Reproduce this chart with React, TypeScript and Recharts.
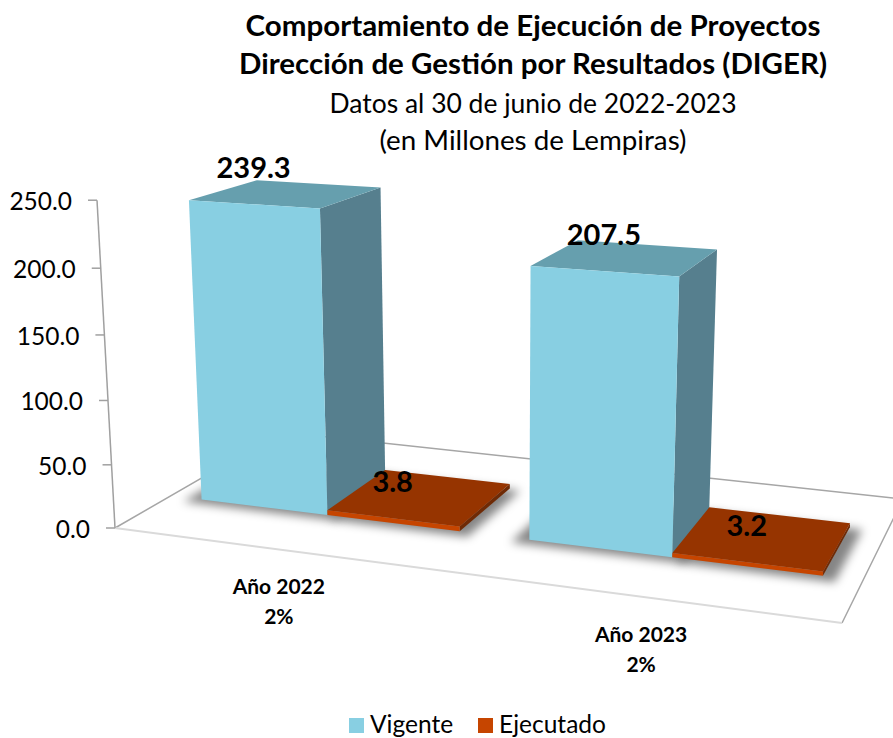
import { Bar, BarChart, Customized, LabelList, Legend, XAxis, YAxis } from "recharts";

const categories = ["Año 2022", "Año 2023"];
const categoryShares = ["2%", "2%"];
const vigente = [239.3, 207.5];
const ejecutado = [3.8, 3.2];
const yTicks = [0, 50, 100, 150, 200, 250];
const titleBold = ["Comportamiento de Ejecución de Proyectos", "Dirección de Gestión por Resultados (DIGER)"];
const titleRegular = ["Datos al 30 de junio de 2022-2023", "(en Millones de Lempiras)"];

const tableData = categories.map((name, i) => ({
  name,
  share: categoryShares[i],
  Vigente: vigente[i],
  Ejecutado: ejecutado[i],
}));

const WIDTH = 893;
const HEIGHT = 738;
const PLOT_LEFT = 115;
const PLOT_TOP = 200;
const PLOT_W = 727;
const PLOT_H = 328;
const FONT = "Lato, 'Open Sans', sans-serif";

// depth of the bars on the floor, 0 = front edge, 1 = back edge
const BAR_FRONT = 0.3;
const BAR_BACK = 0.7;

// perspective of the old 3D excel chart: floor homography + vanishing point of the verticals
function project(u: number, v: number, value: number): [number, number] {
  const w = -0.12734 * u + 0.18225 * v + 1;
  const X = 619.8 * u + 217.8 * v + 115;
  const Y = 15.67 * u - 17.27 * v + 528;
  const k = -0.000179 * value;
  return [(X + k * 499) / (w + k), (Y + k * 7525) / (w + k)];
}

const pts = (list: [number, number][]) => list.map((p) => p.join(",")).join(" ");
const toU = (x: number) => (x - PLOT_LEFT) / PLOT_W;

const faces: Record<string, { top: string; side: string }> = {
  "#88CFE2": { top: "#669FAE", side: "#567F8E" },
  "#C64500": { top: "#963400", side: "#6F2A05" },
};

function Prism(props: any) {
  const { x, width, height, fill } = props;
  const value = (height / PLOT_H) * 250;
  const u0 = toU(x);
  const u1 = toU(x + width);
  const c = faces[fill];
  // the low bars sit against the tall one, so keep their shadow off its side
  const s0 = value < 20 ? u0 + 0.012 : u0 - 0.02;
  return (
    <g>
      <polygon
        points={pts([
          project(s0, BAR_FRONT - 0.035, 0),
          project(u1 + 0.018, BAR_FRONT - 0.035, 0),
          project(u1 + 0.018, BAR_BACK - 0.01, 0),
          project(s0, BAR_BACK - 0.01, 0),
        ])}
        fill="#000"
        fillOpacity={0.48}
        filter="url(#floorShadow)"
      />
      <polygon
        points={pts([
          project(u1, BAR_FRONT, 0),
          project(u1, BAR_BACK, 0),
          project(u1, BAR_BACK, value),
          project(u1, BAR_FRONT, value),
        ])}
        fill={c.side}
      />
      <polygon
        points={pts([
          project(u0, BAR_FRONT, value),
          project(u1, BAR_FRONT, value),
          project(u1, BAR_BACK, value),
          project(u0, BAR_BACK, value),
        ])}
        fill={c.top}
      />
      <polygon
        points={pts([
          project(u0, BAR_FRONT, 0),
          project(u1, BAR_FRONT, 0),
          project(u1, BAR_FRONT, value),
          project(u0, BAR_FRONT, value),
        ])}
        fill={fill}
      />
    </g>
  );
}

function BarValue(props: any) {
  const { x, width, height, value } = props;
  const [px, py] = project(toU(x + width / 2), BAR_FRONT, (height / PLOT_H) * 250);
  return (
    <text x={px} y={py - 26} textAnchor="middle" fontFamily={FONT} fontSize={29} fontWeight={700} fill="#000">
      {value.toFixed(1)}
    </text>
  );
}

function YTick(props: any) {
  const value = props.payload.value;
  const [px, py] = project(0, 0, value);
  return (
    <g>
      <line x1={px - 9} y1={py} x2={px} y2={py} stroke="#A0A0A0" strokeWidth={1.5} />
      <text x={px - 25} y={py + 10} textAnchor="end" fontFamily={FONT} fontSize={24.5} fill="#000">
        {value.toFixed(1)}
      </text>
    </g>
  );
}

function XTick(props: any) {
  const { x, index, payload } = props;
  const [px, py] = project(toU(x), 0, 0);
  return (
    <text textAnchor="middle" fontFamily={FONT} fontSize={21} fontWeight={700} fill="#000">
      <tspan x={px} y={py + 45}>{payload.value}</tspan>
      <tspan x={px} y={py + 75}>{categoryShares[index]}</tspan>
    </text>
  );
}

function Backdrop() {
  const fl = project(0, 0, 0);
  const fr = project(1, 0, 0);
  const br = project(1, 1, 0);
  const bl = project(0, 1, 0);
  const axisTop = project(0, 0, 250);
  return (
    <g>
      <defs>
        <filter id="floorShadow" x="-40%" y="-60%" width="180%" height="220%">
          <feGaussianBlur stdDeviation="5" />
        </filter>
      </defs>
      <text x={533} y={36} textAnchor="middle" textLength={575} lengthAdjust="spacingAndGlyphs" fontFamily={FONT} fontSize={28} fontWeight={700} fill="#000">
        {titleBold[0]}
      </text>
      <text x={533} y={74} textAnchor="middle" textLength={588} lengthAdjust="spacingAndGlyphs" fontFamily={FONT} fontSize={28} fontWeight={700} fill="#000">
        {titleBold[1]}
      </text>
      <text x={533} y={113} textAnchor="middle" textLength={407} lengthAdjust="spacingAndGlyphs" fontFamily={FONT} fontSize={27} fill="#000">
        {titleRegular[0]}
      </text>
      <text x={533} y={150} textAnchor="middle" textLength={307} lengthAdjust="spacingAndGlyphs" fontFamily={FONT} fontSize={27} fill="#000">
        {titleRegular[1]}
      </text>
      <polyline points={pts([fl, bl, br, fr])} fill="none" stroke="#A6A6A6" strokeWidth={1.5} />
      <line x1={fl[0]} y1={fl[1]} x2={fr[0]} y2={fr[1]} stroke="#DADADA" strokeWidth={2} />
      <line x1={fl[0]} y1={fl[1]} x2={axisTop[0]} y2={axisTop[1]} stroke="#A0A0A0" strokeWidth={1.5} />
    </g>
  );
}

function LegendRow(props: any) {
  return (
    <div style={{ display: "flex", fontFamily: FONT, fontSize: 24.5, color: "#000", lineHeight: "28px" }}>
      {props.payload.map((entry: any, i: number) => (
        <div key={entry.value} style={{ display: "flex", alignItems: "center", marginRight: i === 0 ? 25 : 0 }}>
          <span style={{ width: 15, height: 15, background: entry.color, marginRight: 6, marginTop: 3, display: "inline-block" }} />
          {entry.value}
        </div>
      ))}
    </div>
  );
}

export default function App() {
  return (
    <div style={{ position: "absolute", left: 0, top: 0, width: WIDTH, height: HEIGHT, overflow: "hidden", background: "#fff" }}>
      <BarChart
        width={WIDTH}
        height={HEIGHT}
        data={tableData}
        barCategoryGap="10%"
        barGap={0}
        margin={{ top: PLOT_TOP, right: WIDTH - PLOT_LEFT - PLOT_W, bottom: 0, left: 0 }}
      >
        <Customized component={Backdrop} />
        <XAxis dataKey="name" height={HEIGHT - PLOT_TOP - PLOT_H} axisLine={false} tickLine={false} interval={0} tick={XTick} />
        <YAxis width={PLOT_LEFT} domain={[0, 250]} ticks={yTicks} axisLine={false} tickLine={false} tick={YTick} />
        <Legend
          layout="vertical"
          align="center"
          verticalAlign="middle"
          itemSorter={null}
          content={LegendRow}
          wrapperStyle={{ left: 349, top: 710, width: 300 }}
        />
        <Bar dataKey="Vigente" fill="#88CFE2" shape={Prism} isAnimationActive={false} legendType="square">
          <LabelList dataKey="Vigente" content={BarValue} />
        </Bar>
        <Bar dataKey="Ejecutado" fill="#C64500" shape={Prism} isAnimationActive={false} legendType="square">
          <LabelList dataKey="Ejecutado" content={BarValue} />
        </Bar>
      </BarChart>
    </div>
  );
}
